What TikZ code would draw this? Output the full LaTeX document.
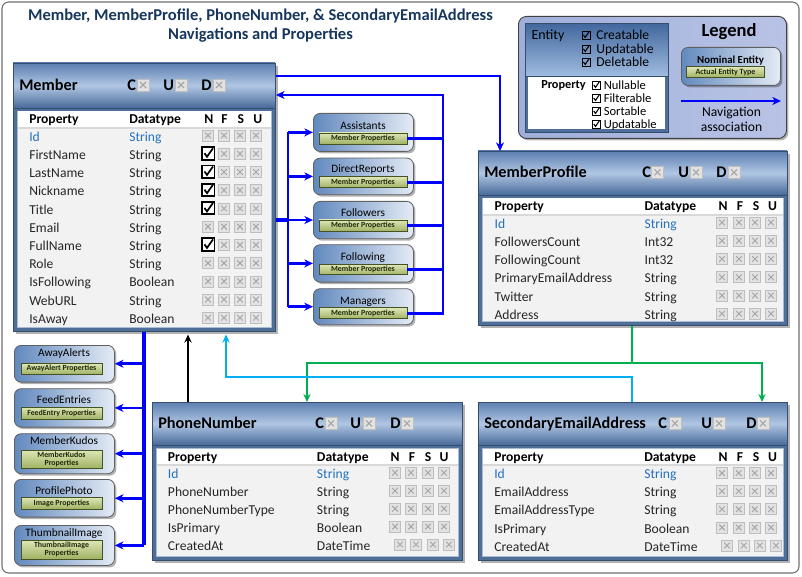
\documentclass[tikz,border=0pt]{standalone}
\usepackage{fontspec}
\setmainfont{Carlito}
\usetikzlibrary{arrows.meta,shadows}

\definecolor{titlec}{RGB}{23,54,93}
\definecolor{hdA}{RGB}{92,126,176}
\definecolor{hdB}{RGB}{176,198,227}
\definecolor{hdC}{RGB}{72,106,153}
\definecolor{framec}{RGB}{79,110,152}
\definecolor{framed}{RGB}{52,78,112}
\definecolor{bodyc}{RGB}{242,242,242}
\definecolor{bodyedge}{RGB}{170,188,212}
\definecolor{rowc}{RGB}{38,38,38}
\definecolor{idc}{RGB}{36,113,192}
\definecolor{xbfill}{RGB}{226,226,226}
\definecolor{xbedge}{RGB}{190,190,190}
\definecolor{xbx}{RGB}{165,165,165}
\definecolor{navL}{RGB}{98,137,190}
\definecolor{navR}{RGB}{228,235,245}
\definecolor{navedge}{RGB}{96,96,96}
\definecolor{barT}{RGB}{222,231,182}
\definecolor{barB}{RGB}{160,178,100}
\definecolor{baredge}{RGB}{70,82,36}
\definecolor{bartext}{RGB}{30,40,10}
\definecolor{navblue}{RGB}{0,0,255}
\definecolor{linkgreen}{RGB}{0,176,80}
\definecolor{linkcyan}{RGB}{0,176,240}
\definecolor{legL}{RGB}{160,175,218}
\definecolor{legR}{RGB}{184,195,229}
\definecolor{legEA}{RGB}{66,104,158}
\definecolor{legEB}{RGB}{160,188,224}
\definecolor{outerc}{RGB}{110,110,110}

\def\barw{88}
\def\barcx{50}

\tikzset{
  xb/.pic={\draw[xbedge, fill=xbfill, line width=0.5pt] (-5.5,-5.5) rectangle (5.5,5.5);
           \draw[xbx, line width=0.7pt] (-2.8,-2.8) -- (2.8,2.8) (-2.8,2.8) -- (2.8,-2.8);},
  xbh/.pic={\draw[xbedge, fill=xbfill, line width=0.5pt] (-6,-6) rectangle (6,6);
           \draw[xbx, line width=0.8pt] (-3,-3) -- (3,3) (-3,3) -- (3,-3);},
  cb/.pic={\draw[black, line width=1.4pt, fill=white] (-6.5,-6.5) rectangle (6,6);
           \draw[black, line width=1.3pt] (-4,-0.5) -- (-1.5,3) -- (4.5,-5.5);},
  lcb/.pic={\draw[black, line width=0.6pt] (-4,-4) rectangle (4,4);
            \draw[black, line width=0.8pt] (-2.6,0) -- (-0.8,2.4) -- (3,-3.2);},
  ent/.style={rectangle, inner sep=0pt, anchor=north west, fill=framec, draw=framed, line width=0.7pt,
              drop shadow={shadow xshift=2pt, shadow yshift=-2pt, opacity=0.3, fill=black}},
  etitle/.style={anchor=west, inner sep=0pt, font=\bfseries\fontsize{12.2}{14}\selectfont, text height=7.9pt, text depth=0pt, text=black},
  colh/.style={anchor=west, inner sep=0pt, font=\bfseries\fontsize{10.2}{12}\selectfont, text height=6.6pt, text depth=0pt, text=black},
  colc/.style={colh, anchor=center},
  rowt/.style={anchor=west, inner sep=0pt, font=\fontsize{10.2}{12}\selectfont, text height=6.6pt, text depth=0pt, text=rowc},
  idt/.style={rowt, text=idc},
  ttl/.style={inner sep=0pt, font=\bfseries\fontsize{12.4}{14}\selectfont, text=titlec, text height=8pt, text depth=0pt},
  navbox/.style={rectangle, rounded corners=5pt, anchor=north west, minimum width=75pt, inner sep=0pt,
                 left color=navL, right color=navR, draw=navedge, line width=0.6pt,
                 drop shadow={shadow xshift=1.5pt, shadow yshift=-1.5pt, opacity=0.3, fill=black}},
  navtitle/.style={inner sep=0pt, font=\fontsize{8.5}{10}\selectfont, text height=5.5pt, text depth=0pt, text=black},
  navbar/.style={rectangle, inner sep=0pt, minimum width={\barw*0.75pt}, top color=barT, bottom color=barB,
                 draw=baredge, line width=0.5pt, font=\bfseries\fontsize{5.9}{6.3}\selectfont, text=bartext, align=center},
  nav/.style={draw=navblue, line width=2pt},
  navarrow/.style={nav, -{Stealth[length=6.5pt, width=6pt, inset=2pt]}},
  link/.style={line width=1.5pt, -{Stealth[length=6pt, width=5.5pt, inset=2pt]}},
  legt/.style={anchor=west, inner sep=0pt, font=\fontsize{10.2}{12}\selectfont, text height=6.6pt, text depth=0pt},
  legs/.style={anchor=west, inner sep=0pt, font=\fontsize{9.4}{11}\selectfont, text height=6.1pt, text depth=0pt},
}

\newcommand\entity[6]{%
  \node[ent, minimum width={#4*0.75pt}, minimum height={#5*0.75pt}] (#1) at (#2,#3) {};
  \shade[top color=hdA, bottom color=hdC, middle color=hdB, draw=framed, line width=0.6pt] (#2,#3) rectangle ({#2+#4},{#3+#6});
  \fill[bodyc, draw=bodyedge, line width=0.5pt] ({#2+4},{#3+#6+3}) rectangle ({#2+#4-4},{#3+#5-4});
  \fill[white] ({#2+4.5},{#3+#6+3.5}) rectangle ({#2+#4-4.5},{#3+#6+20});
  \draw[gray!30, line width=0.8pt] ({#2+4.5},{#3+#6+20}) -- ({#2+#4-4.5},{#3+#6+20});
}

\newcommand\navnode[9]{%
  \node[navbox, minimum height={#4*0.75pt}] (#1) at (#2,#3) {};
  \node[navtitle] (#1t) at ({#2+50},{#3+#7}) {#5};
  \node[navbar, minimum height={#9*0.75pt}] (#1bar) at ({#2+\barcx},{#3+#8+#9/2}) {#6};
}

\begin{document}
\begin{tikzpicture}[x=0.75pt, y=-0.75pt]
\useasboundingbox (0,0) rectangle (802,577);
\draw[outerc, rounded corners=5pt, line width=0.8pt] (2,2) rectangle (799,573);

% title
\node[ttl] (title1) at (260.5,15) {Member, MemberProfile, PhoneNumber, \& SecondaryEmailAddress};
\node[ttl] (title2) at (260.5,34) {Navigations and Properties};

% legend
\node[anchor=north west, inner sep=0pt, minimum width=201pt, minimum height=91.5pt, rounded corners=6pt,
      left color=legL, right color=legR, draw=gray!50!black, line width=0.7pt,
      drop shadow={shadow xshift=1.5pt, shadow yshift=-1.5pt, opacity=0.3, fill=black}] (legend) at (518,16) {};
\node[anchor=north west, inner sep=0pt, minimum width=107.25pt, minimum height=39.75pt,
      top color=legEA, bottom color=legEB, draw=framed, line width=0.6pt] (legent) at (525,23) {};
\node[anchor=north west, inner sep=0pt, minimum width=107.25pt, minimum height=42pt,
      fill=framec, draw=framed, line width=0.6pt] (legprop) at (525,76) {};
\fill[white] (528,77.5) rectangle (665,129.5);
\node[anchor=center, inner sep=0pt, font=\fontsize{10.5}{12}\selectfont, text height=6.8pt, text depth=0pt] (lgE) at (548,35) {Entity};
\foreach \lt/\ly [count=\i] in {Creatable/35, Updatable/49, Deletable/62}{
  \pic at (586,\ly) {lcb};
  \node[legt] (lgc\i) at (596,\ly) {\lt};
}
\node[anchor=center, inner sep=0pt, font=\bfseries\fontsize{9.2}{11}\selectfont, text height=6pt, text depth=0pt] (lgP) at (563.5,85) {Property};
\foreach \lt/\ly [count=\i] in {Nullable/85, Filterable/98, Sortable/111, Updatable/124}{
  \pic at (596.3,\ly) {lcb};
  \node[legs] (lgp\i) at (603.5,\ly) {\lt};
}
\node[inner sep=0pt, font=\bfseries\fontsize{13.9}{16}\selectfont, text height=9pt, text depth=0pt] (lgTitle) at (729,31) {Legend};
\node[navbox, minimum width=74.25pt, minimum height=28.5pt] (nominal) at (681,47) {};
\node[inner sep=0pt, font=\bfseries\fontsize{8.1}{10}\selectfont, text height=5.2pt, text depth=0pt] (nominalt) at (730.5,60) {Nominal Entity};
\node[navbar, minimum width=58.5pt, minimum height=8pt, font=\bfseries\fontsize{6}{7}\selectfont] (nominalbar) at (725.5,72) {Actual Entity Type};
\coordinate (la1) at (681,101);
\coordinate (la2) at (781,101);
\draw[navarrow] (la1) -- (la2);
\node[legt, anchor=center] (lgN1) at (731.5,112) {Navigation};
\node[legt, anchor=center] (lgN2) at (731.5,127.5) {association};

% ---------------- Member
\entity{member}{13}{63}{262}{268}{45}
\node[etitle] (memT) at (19,85) {Member};
\node[etitle] (memC) at (127,85) {C}; \pic at (143,85) {xbh};
\node[etitle] (memU) at (163,85) {U}; \pic at (181,85) {xbh};
\node[etitle] (memD) at (201,85) {D}; \pic at (219,85) {xbh};
\node[colh] (memHP) at (29,119) {Property};
\node[colh] (memHD) at (129,119) {Datatype};
\foreach \l/\xx [count=\i] in {N/208.8,F/224.5,S/240.8,U/257.8} \node[colc] (memH\i) at (\xx,119) {\l};
\node[idt] (memId) at (29,136.7) {Id};
\node[idt] (memIdT) at (129,136.7) {String};
\foreach \xx in {208,224,240,256} \pic at (\xx,135.5) {xb};
\foreach \pn/\ty/\ck [count=\i] in {FirstName/String/1, LastName/String/1, Nickname/String/1, Title/String/1,
    Email/String/0, FullName/String/1, Role/String/0, IsFollowing/Boolean/0, WebURL/String/0, IsAway/Boolean/0}{
  \pgfmathsetmacro\yy{136.7+18.23*\i}
  \node[rowt] (memP\i) at (29,\yy) {\pn};
  \node[rowt] (memY\i) at (129,\yy) {\ty};
  \ifnum\ck=1 \pic at (208.5,\yy-1.2) {cb}; \else \pic at (208,\yy-1.2) {xb}; \fi
  \foreach \xx in {224,240,256} \pic at (\xx,\yy-1.2) {xb};
}

% ---------------- MemberProfile
\entity{mprof}{478}{151}{309}{174}{44}
\node[etitle] (mpT) at (484,172.3) {MemberProfile};
\node[etitle] (mpC) at (642,172.3) {C}; \pic at (657.5,172.3) {xbh};
\node[etitle] (mpU) at (678,172.3) {U}; \pic at (696,172.3) {xbh};
\node[etitle] (mpD) at (716,172.3) {D}; \pic at (734,172.3) {xbh};
\node[colh] (mpHP) at (494.3,206) {Property};
\node[colh] (mpHD) at (644.3,206) {Datatype};
\foreach \l/\xx [count=\i] in {N/723,F/740,S/756,U/772.5} \node[colc] (mpH\i) at (\xx,206) {\l};
\node[idt] (mpId) at (494.3,223.7) {Id};
\node[idt] (mpIdT) at (644.3,223.7) {String};
\foreach \xx in {722,739,755,771} \pic at (\xx,222.5) {xb};
\foreach \pn/\ty [count=\i] in {FollowersCount/Int32, FollowingCount/Int32, PrimaryEmailAddress/String, Twitter/String, Address/String}{
  \pgfmathsetmacro\yy{223.7+18.26*\i}
  \node[rowt] (mpP\i) at (494.3,\yy) {\pn};
  \node[rowt] (mpY\i) at (644.3,\yy) {\ty};
  \foreach \xx in {722,739,755,771} \pic at (\xx,\yy-1.2) {xb};
}

% ---------------- PhoneNumber
\entity{phone}{152}{402}{310}{158}{43}
\node[etitle] (phT) at (158,423.3) {PhoneNumber};
\node[etitle] (phC) at (315,423.3) {C}; \pic at (331,423.3) {xbh};
\node[etitle] (phU) at (350,423.3) {U}; \pic at (369,423.3) {xbh};
\node[etitle] (phD) at (390,423.3) {D}; \pic at (407,423.3) {xbh};
\node[colh] (phHP) at (167.7,456.7) {Property};
\node[colh] (phHD) at (316.7,456.7) {Datatype};
\foreach \l/\xx [count=\i] in {N/395,F/412,S/428,U/444} \node[colc] (phH\i) at (\xx,456.7) {\l};
\node[idt] (phId) at (167.7,474) {Id};
\node[idt] (phIdT) at (316.7,474) {String};
\foreach \xx in {395,411,428,444} \pic at (\xx,472.8) {xb};
\foreach \pn/\ty [count=\i] in {PhoneNumber/String, PhoneNumberType/String, IsPrimary/Boolean, CreatedAt/DateTime}{
  \pgfmathsetmacro\yy{474+17.93*\i}
  \pgfmathsetmacro\sx{\i==4 ? 5 : 0}
  \node[rowt] (phP\i) at (167.7,\yy) {\pn};
  \node[rowt] (phY\i) at (316.7,\yy) {\ty};
  \foreach \xx in {395,411,428,444} \pic at (\xx+\sx,\yy-1.2) {xb};
}

% ---------------- SecondaryEmailAddress
\entity{semail}{478}{402}{309}{158}{43}
\node[etitle] (seT) at (484,423.3) {SecondaryEmailAddress};
\node[etitle] (seC) at (658,423.3) {C}; \pic at (675,423.3) {xbh};
\node[etitle] (seU) at (701,423.3) {U}; \pic at (719,423.3) {xbh};
\node[etitle] (seD) at (746,423.3) {D}; \pic at (763,423.3) {xbh};
\node[colh] (seHP) at (494,456.7) {Property};
\node[colh] (seHD) at (644,456.7) {Datatype};
\foreach \l/\xx [count=\i] in {N/723,F/740,S/756,U/772.5} \node[colc] (seH\i) at (\xx,456.7) {\l};
\node[idt] (seId) at (494,474.3) {Id};
\node[idt] (seIdT) at (644,474.3) {String};
\foreach \xx in {722,738.7,754.7,771} \pic at (\xx,473.1) {xb};
\foreach \pn/\ty [count=\i] in {EmailAddress/String, EmailAddressType/String, IsPrimary/Boolean, CreatedAt/DateTime}{
  \pgfmathsetmacro\yy{474.3+18.1*\i}
  \pgfmathsetmacro\sx{\i==4 ? 5 : 0}
  \node[rowt] (seP\i) at (494,\yy) {\pn};
  \node[rowt] (seY\i) at (644,\yy) {\ty};
  \foreach \xx in {722,738.7,754.7,771} \pic at (\xx+\sx,\yy-1.2) {xb};
}

% ---------------- navigation nodes (middle)
\def\barw{88}\def\barcx{50}
\navnode{assist}{313}{113}{38}{Assistants}{Member Properties}{12.4}{20}{11}
\navnode{direct}{313}{157.7}{36.6}{DirectReports}{Member Properties}{11.6}{19}{11}
\navnode{follwr}{313}{201}{37.3}{Followers}{Member Properties}{11.7}{19}{11}
\navnode{follwg}{313}{244.3}{37.4}{Following}{Member Properties}{12.4}{20}{10.5}
\navnode{mgr}{313}{288.3}{36}{Managers}{Member Properties}{12.4}{19.4}{11}

% ---------------- navigation nodes (left)
\def\barw{81}\def\barcx{47.5}
\navnode{away}{14}{345}{36.7}{AwayAlerts}{AwayAlert Properties}{7.5}{18.3}{11}
\navnode{feed}{14}{388.3}{38.4}{FeedEntries}{FeedEntry Properties}{11.7}{19}{12}
\navnode{kudos}{14}{433.3}{40}{MemberKudos}{MemberKudos\\Properties}{8}{16.7}{18.3}
\navnode{photo}{14}{479}{37.7}{ProfilePhoto}{Image Properties}{11.8}{18.3}{11.7}
\navnode{thumb}{14}{525}{40}{ThumbnailImage}{ThumbnailImage\\Properties}{8}{15}{19}

% ---------------- connectors
\coordinate (mpx) at (500,76);
\coordinate (rtr) at (443,95);
\coordinate (ltr) at (288,0);
\coordinate (btr) at (144,0);
\coordinate (blk) at (188,0);
\coordinate (gj) at (632,363);
\coordinate (gL) at (307,363);
\coordinate (gR) at (762,363);
\coordinate (cy) at (226,377);

\draw[navarrow, line width=1.7pt] (member.east |- mpx) -| (mprof.north -| mpx);

\foreach \n in {assist,direct,follwr,follwg} \draw[nav] (\n bar.east) -- (\n bar.east -| rtr);
\draw[navarrow] (mgrbar.east) -| (rtr) -- (member.east |- rtr);

\draw[nav, line width=3pt] (member.east |- follwr.west) -- (ltr |- follwr.west);
\draw[nav] (ltr |- assist.west) -- (ltr |- mgr.west);
\foreach \n in {assist,direct,follwr,follwg,mgr} \draw[navarrow] (ltr |- \n.west) -- (\n.west);

\draw[nav, line width=2.5pt] (member.south -| btr) -- (btr |- thumb.east);
\foreach \n in {away,feed,kudos,photo,thumb} \draw[navarrow] (btr |- \n.east) -- (\n.east);

\draw[link, black, line width=1.1pt, shorten >=2pt] (phone.north -| blk) -- (member.south -| blk);

\draw[linkgreen, line width=1.5pt] (mprof.south -| gj) -- (gj);
\draw[link, linkgreen] (gj) -| (phone.north -| gL);
\draw[link, linkgreen] (gj) -| (semail.north -| gR);

\draw[link, linkcyan, shorten >=2pt] (semail.north -| gj) |- (cy) -- (member.south -| cy);
\end{tikzpicture}
\end{document}
